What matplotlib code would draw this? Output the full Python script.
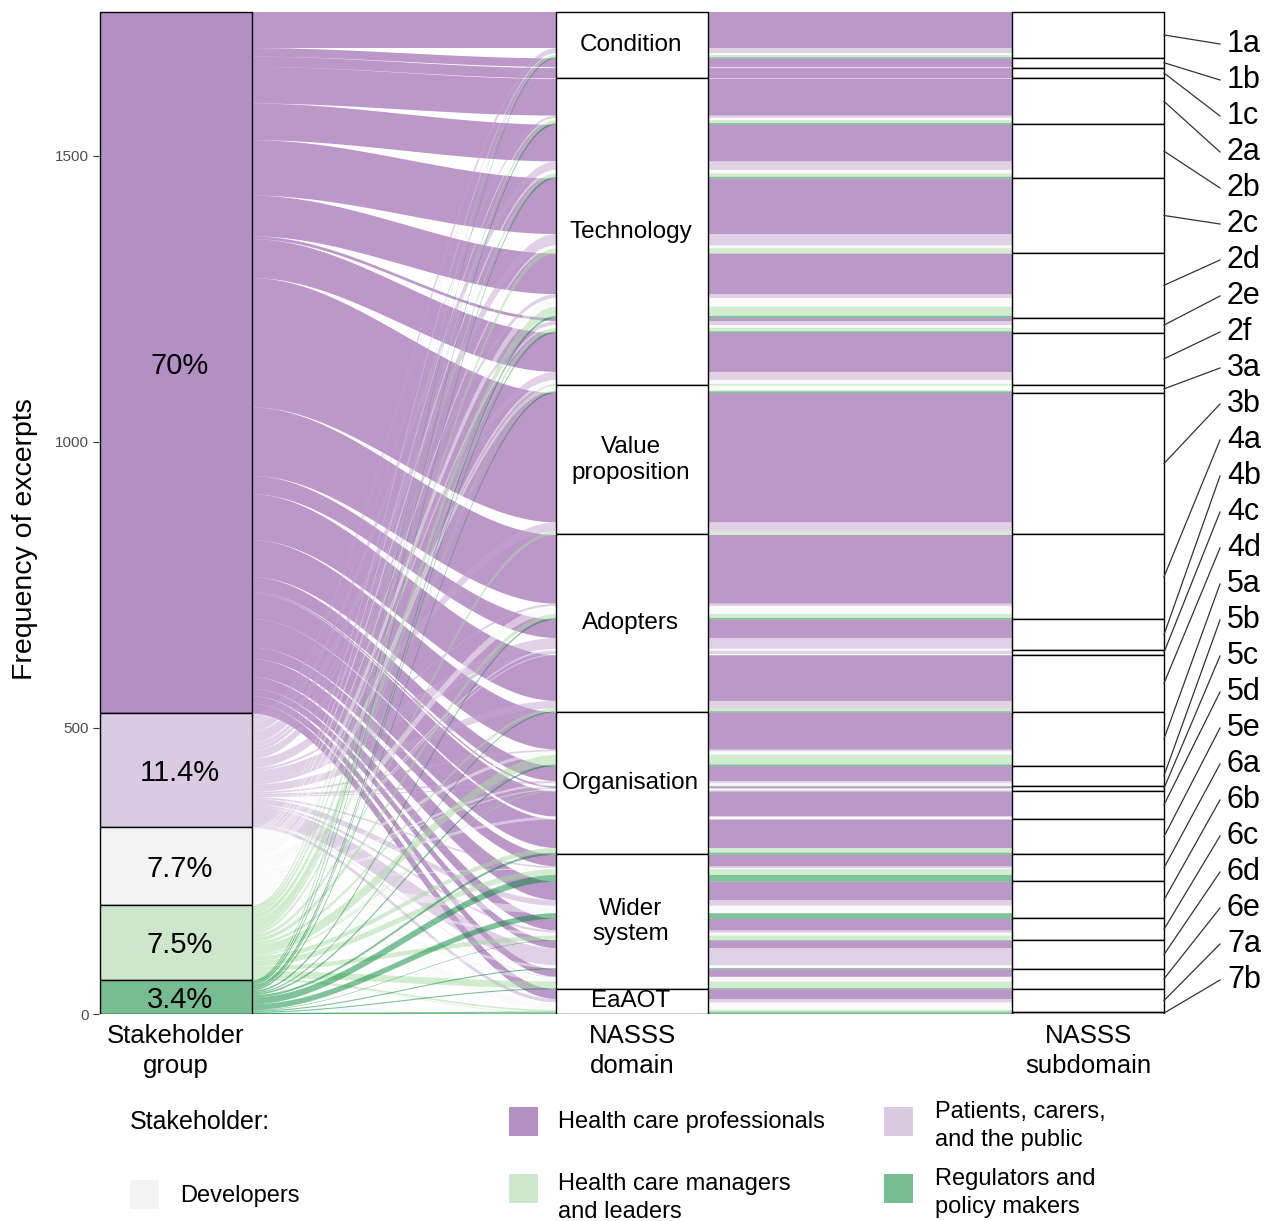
import numpy as np
import matplotlib
matplotlib.use("Agg")
import matplotlib.pyplot as plt
from matplotlib.patches import Rectangle

plt.rcParams['font.family'] = ['Liberation Sans', 'DejaVu Sans']

# stakeholder groups, top to bottom on the first axis
stakeholders = ["Health care professionals", "Patients, carers,\nand the public", "Developers",
                "Health care managers\nand leaders", "Regulators and\npolicy makers"]
colours = ['#7b3294', '#c2a5cf', '#f7f7f7', '#a6dba0', '#008837']       # flows (drawn with alpha)
box_colours = ['#b48fc3', '#dacae2', '#f3f3f3', '#cce7cb', '#77bd92']   # strata and legend keys

domains = ["Condition", "Technology", "Value\nproposition", "Adopters", "Organisation",
           "Wider\nsystem", "EaAOT"]
subdomains = ["1a", "1b", "1c", "2a", "2b", "2c", "2d", "2e", "2f", "3a", "3b",
              "4a", "4b", "4c", "4d", "5a", "5b", "5c", "5d", "5e",
              "6a", "6b", "6c", "6d", "6e", "7a", "7b"]
sub_domain = [0, 0, 0, 1, 1, 1, 1, 1, 1, 2, 2, 3, 3, 3, 3, 4, 4, 4, 4, 4, 5, 5, 5, 5, 5, 6, 6]

# excerpts per subdomain for each stakeholder group
hcp = [62, 15, 18, 64, 64, 97, 71, 5, 68, 0, 226, 120, 32, 0, 80, 65, 26, 3, 44, 50, 20, 32, 20, 13, 13, 17, 0]
patients = [9, 2, 1, 4, 15, 20, 7, 7, 14, 0, 16, 4, 19, 6, 13, 3, 4, 2, 0, 0, 3, 10, 4, 30, 1, 6, 0]
developers = [3, 0, 0, 4, 6, 5, 15, 5, 7, 8, 0, 14, 3, 2, 0, 6, 4, 2, 5, 0, 2, 13, 5, 5, 7, 13, 1]
managers = [4, 0, 0, 5, 6, 9, 16, 6, 3, 2, 6, 7, 0, 0, 5, 17, 1, 2, 0, 8, 10, 0, 8, 0, 12, 3, 1]
regulators = [2, 0, 0, 3, 3, 0, 4, 3, 0, 3, 0, 3, 0, 0, 2, 3, 0, 0, 0, 4, 12, 10, 1, 2, 2, 2, 1]

counts = np.array([hcp, patients, developers, managers, regulators])
total = counts.sum()
n_s, n_d = counts.shape
w = 1 / 3

fig = plt.figure(figsize=(12.74, 12.21), dpi=100)
ax = fig.add_axes([99 / 1274, 207 / 1221, 1175 / 1274, 1004 / 1221])
ax.set_xlim(1 - 77 / 456, 3 + 186 / 456)
ax.set_ylim(0, 1004 / 0.5722)

# lode positions on the stakeholder axis (by stakeholder, then subdomain)
y1 = {}
top = total
for s in range(n_s):
    for d in range(n_d):
        y1[(s, d)] = (top - counts[s, d], top)
        top -= counts[s, d]

# lode positions on the domain / subdomain axes (by subdomain, then stakeholder)
y2 = {}
top = total
for d in range(n_d):
    for s in range(n_s):
        y2[(s, d)] = (top - counts[s, d], top)
        top -= counts[s, d]

xa, xb, xc = 1 + w / 2, 2 - w / 2, 3 - w / 2
xs = np.linspace(xa, xb, 80)
t = (xs - xa) / (xb - xa)
f = t * t * (3 - 2 * t)
xs_full = np.append(xs, xc)

for s in range(n_s):
    for d in range(n_d):
        if counts[s, d] == 0:
            continue
        b1, t1 = y1[(s, d)]
        b2, t2 = y2[(s, d)]
        lower = np.append(b1 + (b2 - b1) * f, b2)
        upper = np.append(t1 + (t2 - t1) * f, t2)
        ax.fill_between(xs_full, lower, upper, color=colours[s], alpha=0.5, lw=0, zorder=1)

# stakeholder strata
top = total
for s in range(n_s):
    n = counts[s].sum()
    ax.add_patch(Rectangle((1 - w / 2, top - n), w, n, facecolor=box_colours[s],
                           edgecolor='black', lw=1, zorder=3))
    pct = round(100 * n / total, 1)
    ax.text(1.008, top - n / 2, f"{pct:g}%", ha='center', va='center_baseline', fontsize=21, zorder=4)
    top -= n

# domain strata
top = total
dom_totals = [counts[:, [i for i in range(n_d) if sub_domain[i] == k]].sum() for k in range(len(domains))]
for k, name in enumerate(domains):
    n = dom_totals[k]
    ax.add_patch(Rectangle((2 - w / 2, top - n), w, n, facecolor='white',
                           edgecolor='black', lw=1, zorder=3))
    ax.text(1.997, top - n / 2, name, ha='center', va='center', fontsize=17.5,
            linespacing=1.2, zorder=4)
    top -= n

# subdomain strata with leader lines to labels
top = total
label_y = np.linspace((1014 - 44) / 0.5722, (1014 - 980) / 0.5722, n_d)
for d in range(n_d):
    n = counts[:, d].sum()
    ax.add_patch(Rectangle((3 - w / 2, top - n), w, n, facecolor='white',
                           edgecolor='black', lw=1, zorder=3))
    ax.plot([3 + w / 2, 3 + 132 / 456], [top - n / 2, label_y[d]], color='#333333', lw=0.9,
            clip_on=False, zorder=4)
    ax.text(3 + 139 / 456, label_y[d], subdomains[d], ha='left', va='center', fontsize=22,
            clip_on=False)
    top -= n

for sp in ax.spines.values():
    sp.set_visible(False)
ax.set_xticks([1, 2, 3])
ax.set_xticklabels(["Stakeholder\ngroup", "NASSS\ndomain", "NASSS\nsubdomain"], fontsize=18.5,
                   linespacing=1.35)
ax.tick_params(axis='x', length=0, pad=7)
ax.set_yticks([0, 500, 1000, 1500])
ax.tick_params(axis='y', length=4, color='#333333', labelsize=11, labelcolor='#4d4d4d', pad=3)
ax.set_ylabel("Frequency of excerpts", fontsize=20.5)
ax.yaxis.set_label_coords(-0.052, 0.473)

# legend drawn in pixel coordinates
lg = fig.add_axes([0, 0, 1, 1], zorder=-1)
lg.set_xlim(0, 1274)
lg.set_ylim(1221, 0)
lg.axis('off')
lg.text(130, 1122, "Stakeholder:", fontsize=18, va='center', ha='left')
key_pos = [(509, 1107), (884, 1107), (130, 1180), (509, 1174), (884, 1174)]
text_x = [558, 935, 180, 558, 935]
text_y = [1122, 1126, 1196, 1198, 1193]
for s in range(n_s):
    kx, ky = key_pos[s]
    lg.add_patch(Rectangle((kx, ky), 29, 29, facecolor=box_colours[s], lw=0))
    lg.text(text_x[s], text_y[s], stakeholders[s], fontsize=17, va='center', ha='left', linespacing=1.35)

fig.savefig("out.png", dpi=100)
